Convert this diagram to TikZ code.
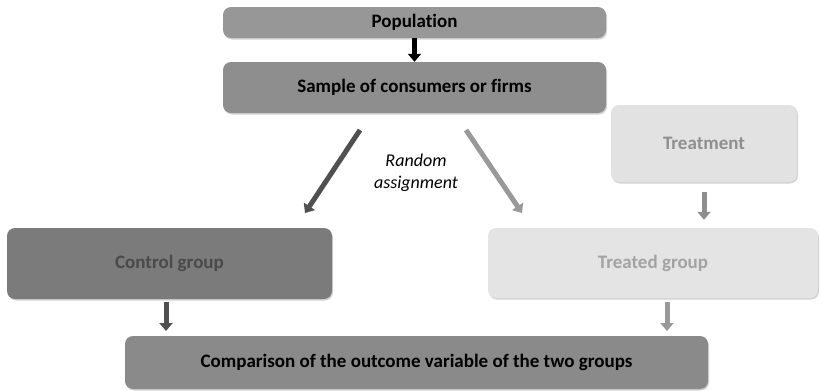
\documentclass[tikz,border=0pt]{standalone}
\usepackage{fontspec}
\setmainfont{Carlito}[Ligatures=NoCommon]
\usetikzlibrary{arrows.meta,shadows}
\definecolor{popfill}{HTML}{979797}
\definecolor{samfill}{HTML}{8E8E8E}
\definecolor{ctrlfill}{HTML}{7B7B7B}
\definecolor{ctrltext}{HTML}{4A4A4A}
\definecolor{cmpfill}{HTML}{8A8A8A}
\definecolor{trtfill}{HTML}{E2E2E2}
\definecolor{trttext}{HTML}{8F8F8F}
\definecolor{tgfill}{HTML}{E4E4E4}
\definecolor{tgtext}{HTML}{A3A3A3}
\definecolor{darkarrow}{HTML}{505050}
\definecolor{lightarrow}{HTML}{999999}
\tikzset{
  box/.style={rounded corners=8pt, draw=none, font=\fontsize{19}{22}\selectfont\bfseries,
    drop shadow={shadow xshift=1pt, shadow yshift=-1.5pt, opacity=0.35}},
  fat/.style={line width=5pt, -{Triangle[length=8pt,width=13pt]}},
}
\begin{document}
\begin{tikzpicture}[x=1pt,y=-1pt]
\useasboundingbox (0,0) rectangle (820,391);
\node[box, fill=popfill, minimum width=383pt, minimum height=31pt] (pop) at (414.5,22.5) {Population};
\node[box, fill=samfill, minimum width=383pt, minimum height=51pt] (sam) at (414.5,87.5) {Sample of consumers or firms};
\node[box, fill=trtfill, text=trttext, minimum width=186pt, minimum height=77pt] (trt) at (704,143.5) {Treatment};
\node[box, fill=tgfill, text=tgtext, minimum width=330pt, minimum height=70pt] (tg) at (653,263) {Treated group};
\node[box, fill=ctrlfill, text=ctrltext, minimum width=325pt, minimum height=71pt] (ctrl) at (169.5,263.5) {Control group};
\node[box, fill=cmpfill, minimum width=583pt, minimum height=53pt] (cmp) at (416.5,362.5) {Comparison of the outcome variable of the two groups};
\node[font=\fontsize{18}{22}\selectfont\itshape, align=center] (ra) at (416,173) {Random\\assignment};
% connectors
\draw[fat, black] (pop.south) -- (sam.north);
\coordinate (dl1) at (360,130);
\coordinate (dl2) at (305,213);
\coordinate (dr1) at (466,130);
\coordinate (dr2) at (522,213);
\draw[fat, darkarrow] (dl1) -- (dl2);
\draw[fat, lightarrow] (dr1) -- (dr2);
\draw[fat, trttext, shorten <=10pt, shorten >=8pt] (trt.south) -- (trt.south |- tg.north);
\coordinate (cl1) at (166,302);
\coordinate (cl2) at (166,331);
\coordinate (cr1) at (667,302);
\coordinate (cr2) at (667,331);
\draw[fat, darkarrow] (cl1) -- (cl2);
\draw[fat, lightarrow] (cr1) -- (cr2);
\end{tikzpicture}
\end{document}
